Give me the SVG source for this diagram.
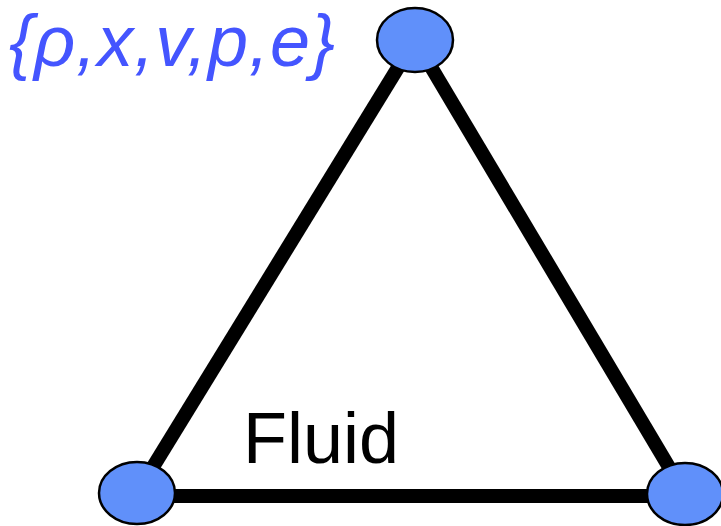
<svg xmlns="http://www.w3.org/2000/svg" width="721" height="526" viewBox="0 0 721 526">
<style>
.edge{stroke:#000;stroke-width:14;fill:none}
.node{fill:#6090fa;stroke:#000;stroke-width:2.5}
.lbl{font-family:"Liberation Sans",Arial,sans-serif;font-size:72px}
</style>
<rect width="721" height="526" fill="#fff"/>
<g id="connectors">
<line class="edge" x1="415" y1="40" x2="137" y2="493"/>
<line class="edge" x1="415" y1="40" x2="685" y2="494"/>
<line class="edge" x1="137" y1="496" x2="685" y2="496"/>
</g>
<g id="node-top"><ellipse class="node" cx="415" cy="40" rx="38" ry="32"/></g>
<g id="node-left"><ellipse class="node" cx="137" cy="493" rx="38" ry="31"/></g>
<g id="node-right"><ellipse class="node" cx="685" cy="494" rx="38" ry="31"/></g>
<text class="lbl" x="9" y="66" fill="#4455ff" font-style="italic" textLength="326" lengthAdjust="spacing">{ρ,x,v,p,e}</text>
<text class="lbl" x="243" y="463" fill="#000">Fluid</text>
</svg>
